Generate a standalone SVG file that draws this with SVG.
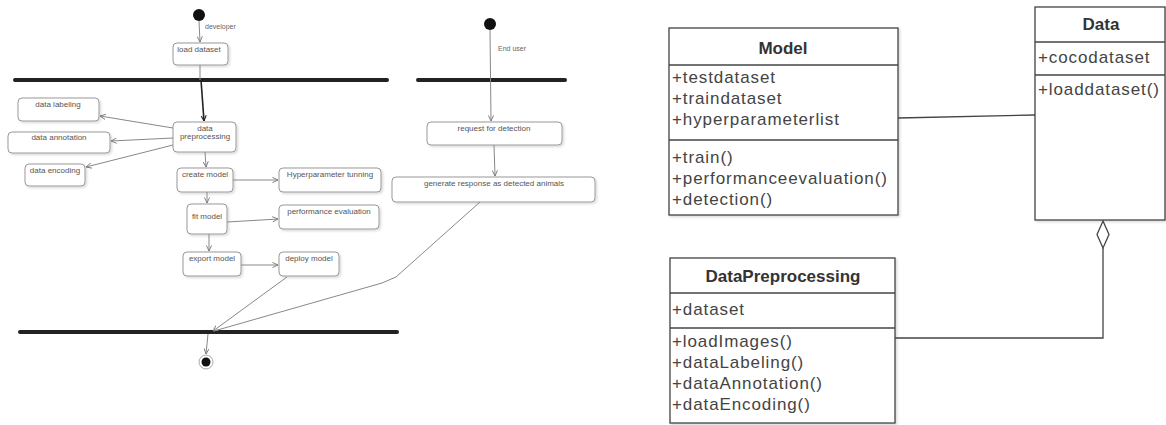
<svg xmlns="http://www.w3.org/2000/svg" width="1166" height="425" viewBox="0 0 1166 425">
<defs>
<marker id="arr" viewBox="0 0 8 8" refX="7.5" refY="4" markerWidth="6" markerHeight="6" orient="auto" markerUnits="userSpaceOnUse">
<path d="M0,0.5 L7.5,4 L0,7.5" fill="none" stroke="#777" stroke-width="1.2"/>
</marker>
<marker id="arrd" viewBox="0 0 8 8" refX="7.5" refY="4" markerWidth="6" markerHeight="6" orient="auto" markerUnits="userSpaceOnUse">
<path d="M0,0.5 L7.5,4 L0,7.5" fill="none" stroke="#222" stroke-width="1.4"/>
</marker>
<filter id="sh" x="-10%" y="-10%" width="130%" height="140%">
<feDropShadow dx="1.5" dy="1.5" stdDeviation="1" flood-color="#000" flood-opacity="0.15"/>
</filter>
</defs>
<style>
.act{fill:#fff;stroke:#999;stroke-width:1;filter:url(#sh)}
.at{font-family:"Liberation Sans",Arial,sans-serif;font-size:8px;fill:#555;text-anchor:middle}
.lbl{font-family:"Liberation Sans",Arial,sans-serif;font-size:7px;fill:#666}
.bar{stroke:#222;stroke-width:4;stroke-linecap:round}
.ln{fill:none;stroke:#888;stroke-width:1}
.cls{fill:#fff;stroke:#444;stroke-width:1.3;filter:url(#sh)}
.div{stroke:#444;stroke-width:1.3}
.ct{font-family:"Liberation Sans",Arial,sans-serif;font-size:17px;letter-spacing:0.9px;fill:#444}
.ch{font-family:"Liberation Sans",Arial,sans-serif;font-size:17px;font-weight:bold;fill:#333;text-anchor:middle}
.uln{fill:none;stroke:#444;stroke-width:1.3}
</style>

<!-- Activity diagram: developer -->
<g id="start-developer">
<circle cx="199" cy="15" r="6" fill="#111"/>
<text class="lbl" x="205" y="29">developer</text>
</g>
<g id="bar-top-left"><line class="bar" x1="15" y1="80" x2="387" y2="80"/></g>
<g id="load-dataset"><rect class="act" x="173" y="43" width="55" height="22" rx="4"/><text class="at" x="199" y="52">load dataset</text></g>
<g id="data-preprocessing"><rect class="act" x="173" y="122" width="63" height="30" rx="4"/><text class="at" x="205" y="131">data</text><text class="at" x="205" y="139">preprocessing</text></g>
<g id="data-labeling"><rect class="act" x="18" y="98" width="81" height="23" rx="4"/><text class="at" x="58" y="107">data labeling</text></g>
<g id="data-annotation"><rect class="act" x="8" y="132" width="102" height="21" rx="4"/><text class="at" x="59" y="140">data annotation</text></g>
<g id="data-encoding"><rect class="act" x="25" y="164" width="60" height="22" rx="4"/><text class="at" x="55" y="173">data encoding</text></g>
<g id="create-model"><rect class="act" x="177" y="168" width="56" height="24" rx="4"/><text class="at" x="205" y="177">create model</text></g>
<g id="hyperparameter-tunning"><rect class="act" x="279" y="168" width="102" height="24" rx="4"/><text class="at" x="330" y="177">Hyperparameter tunning</text></g>
<g id="fit-model"><rect class="act" x="187" y="204" width="40" height="30" rx="4"/><text class="at" x="207" y="219">fit model</text></g>
<g id="performance-evaluation"><rect class="act" x="279" y="205" width="100" height="24" rx="4"/><text class="at" x="329" y="214">performance evaluation</text></g>
<g id="export-model"><rect class="act" x="183" y="252" width="58" height="24" rx="4"/><text class="at" x="212" y="261">export model</text></g>
<g id="deploy-model"><rect class="act" x="279" y="252" width="60" height="24" rx="4"/><text class="at" x="309" y="261">deploy model</text></g>
<g id="bar-join"><line class="bar" x1="20" y1="332" x2="397" y2="332"/></g>
<g id="final-node">
<circle cx="206" cy="362" r="7" fill="#fff" stroke="#aaa" stroke-width="1"/>
<circle cx="206" cy="362" r="4.5" fill="#111"/>
</g>

<!-- Activity diagram: end user -->
<g id="start-enduser">
<circle cx="490" cy="24" r="6" fill="#111"/>
<text class="lbl" x="498" y="51">End user</text>
</g>
<g id="bar-top-right"><line class="bar" x1="418" y1="80" x2="565" y2="80"/></g>
<g id="request-for-detection"><rect class="act" x="427" y="122" width="135" height="23" rx="4"/><text class="at" x="494" y="131">request for detection</text></g>
<g id="generate-response"><rect class="act" x="392" y="177" width="203" height="25" rx="4"/><text class="at" x="494" y="186">generate response as detected animals</text></g>

<!-- Class diagram -->
<g id="class-model">
<rect class="cls" x="669" y="28" width="229" height="187"/>
<line class="div" x1="669" y1="65" x2="898" y2="65"/>
<line class="div" x1="669" y1="140" x2="898" y2="140"/>
<text class="ch" x="783" y="54">Model</text>
<text class="ct" x="672" y="83">+testdataset</text>
<text class="ct" x="672" y="104">+traindataset</text>
<text class="ct" x="672" y="125">+hyperparameterlist</text>
<text class="ct" x="672" y="163">+train()</text>
<text class="ct" x="672" y="184">+performanceevaluation()</text>
<text class="ct" x="672" y="205">+detection()</text>
</g>
<g id="class-data">
<rect class="cls" x="1035" y="7" width="130" height="213"/>
<line class="div" x1="1035" y1="42" x2="1165" y2="42"/>
<line class="div" x1="1035" y1="75" x2="1165" y2="75"/>
<text class="ch" x="1101" y="30">Data</text>
<text class="ct" x="1038" y="63">+cocodataset</text>
<text class="ct" x="1038" y="95">+loaddataset()</text>
</g>
<g id="class-datapreprocessing">
<rect class="cls" x="670" y="258" width="225" height="165"/>
<line class="div" x1="670" y1="293" x2="895" y2="293"/>
<line class="div" x1="670" y1="328" x2="895" y2="328"/>
<text class="ch" x="783" y="282">DataPreprocessing</text>
<text class="ct" x="672" y="315">+dataset</text>
<text class="ct" x="672" y="347">+loadImages()</text>
<text class="ct" x="672" y="368">+dataLabeling()</text>
<text class="ct" x="672" y="389">+dataAnnotation()</text>
<text class="ct" x="672" y="410">+dataEncoding()</text>
</g>

<!-- Connectors -->
<g id="connectors">
<line class="ln" x1="199" y1="21" x2="200" y2="42" marker-end="url(#arr)"/>
<line class="ln" x1="200" y1="65" x2="200" y2="80"/>
<line x1="201" y1="80" x2="204" y2="121" stroke="#222" stroke-width="1.6" marker-end="url(#arrd)"/>
<line class="ln" x1="173" y1="128" x2="100" y2="116" marker-end="url(#arr)"/>
<line class="ln" x1="173" y1="138" x2="111" y2="141" marker-end="url(#arr)"/>
<line class="ln" x1="173" y1="145" x2="86" y2="167" marker-end="url(#arr)"/>
<line class="ln" x1="205" y1="152" x2="206" y2="167" marker-end="url(#arr)"/>
<line class="ln" x1="233" y1="180" x2="278" y2="180" marker-end="url(#arr)"/>
<line class="ln" x1="207" y1="192" x2="207" y2="203" marker-end="url(#arr)"/>
<line class="ln" x1="227" y1="222" x2="278" y2="219" marker-end="url(#arr)"/>
<line class="ln" x1="209" y1="234" x2="209" y2="251" marker-end="url(#arr)"/>
<line class="ln" x1="241" y1="265" x2="278" y2="265" marker-end="url(#arr)"/>
<line class="ln" x1="287" y1="277" x2="213" y2="331" marker-end="url(#arr)"/>
<polyline class="ln" points="480,202 396,277 382,283 214,331"/>
<line class="ln" x1="208" y1="334" x2="206" y2="354" marker-end="url(#arr)"/>
<line class="ln" x1="490" y1="30" x2="491" y2="121" marker-end="url(#arr)"/>
<line class="ln" x1="494" y1="145" x2="495" y2="176" marker-end="url(#arr)"/>
<line class="uln" x1="898" y1="118" x2="1035" y2="115"/>
<polyline class="uln" points="895,338 1103,338 1103,248"/>
<polygon points="1103,221 1109,234.5 1103,248 1097,234.5" fill="#fff" stroke="#444" stroke-width="1.3"/>
</g>
</svg>
